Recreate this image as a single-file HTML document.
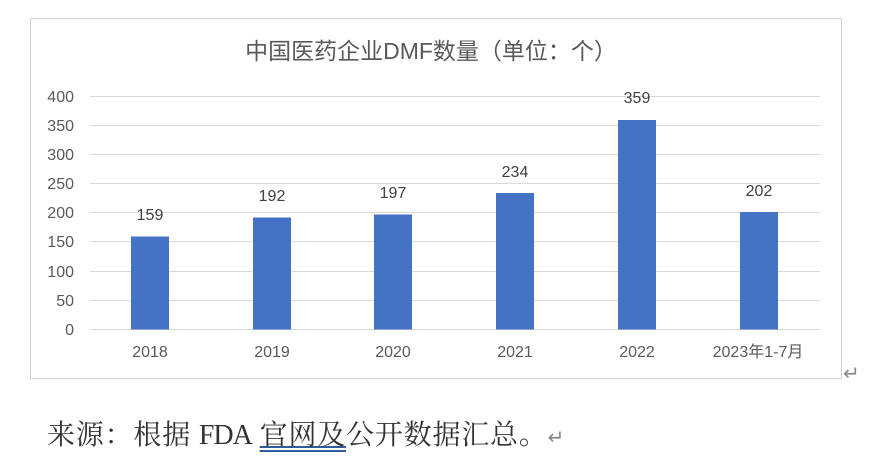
<!DOCTYPE html>
<html><head><meta charset="utf-8"><style>
body{margin:0;background:#fff;width:890px;height:467px;position:relative;overflow:hidden;font-family:"Liberation Sans","Noto Sans CJK SC",sans-serif;}
.frame{position:absolute;left:30px;top:18px;width:812px;height:361px;border:1px solid #d0d0d0;box-sizing:border-box;}
.src{position:absolute;left:47px;top:413px;font-family:"Liberation Serif","Noto Serif CJK SC",serif;font-size:28px;color:#333;letter-spacing:0.8px;}
.u{text-decoration:underline double #2e5c9e;}
</style></head><body>
<div class="frame"></div>
<svg width="890" height="467" style="position:absolute;left:0;top:0" font-family="Liberation Sans, Noto Sans CJK SC, sans-serif">
<text x="431" y="59" text-anchor="middle" font-size="23" fill="#595959">中国医药企业DMF数量（单位：个）</text>
<g stroke="#d9d9d9" stroke-width="1">
<line x1="90" x2="820" y1="96.5" y2="96.5"/><line x1="90" x2="820" y1="125.5" y2="125.5"/><line x1="90" x2="820" y1="154.5" y2="154.5"/><line x1="90" x2="820" y1="183.5" y2="183.5"/><line x1="90" x2="820" y1="212.5" y2="212.5"/><line x1="90" x2="820" y1="241.5" y2="241.5"/><line x1="90" x2="820" y1="271.5" y2="271.5"/><line x1="90" x2="820" y1="300.5" y2="300.5"/><line x1="90" x2="820" y1="329.5" y2="329.5"/>
</g>
<g font-size="16" fill="#595959" text-anchor="end">
<text x="74" y="102">400</text><text x="74" y="131">350</text><text x="74" y="160">300</text><text x="74" y="189">250</text><text x="74" y="218">200</text><text x="74" y="247">150</text><text x="74" y="277">100</text><text x="74" y="306">50</text><text x="74" y="335">0</text>
</g>
<g fill="#4472c4">
<rect x="131" y="236.5" width="38" height="93"/>
<rect x="253" y="217.5" width="38" height="112"/>
<rect x="374" y="214.5" width="38" height="115"/>
<rect x="496" y="193" width="38" height="136.5"/>
<rect x="618" y="120" width="38" height="209.5"/>
<rect x="740" y="212" width="38" height="117.5"/>
</g>
<g font-size="16" fill="#404040" text-anchor="middle">
<text x="150" y="220">159</text><text x="272" y="201">192</text><text x="393" y="198">197</text><text x="515" y="177">234</text><text x="637" y="103">359</text><text x="759" y="196">202</text>
</g>
<g font-size="16" fill="#595959" text-anchor="middle">
<text x="150" y="357">2018</text><text x="272" y="357">2019</text><text x="393" y="357">2020</text><text x="515" y="357">2021</text><text x="637" y="357">2022</text><text x="758" y="357">2023年1-7月</text>
</g>
<text x="843" y="380" font-size="20" fill="#888">↵</text>
</svg>
<div class="src">来源：根据 <span style="letter-spacing:-1px">FDA</span> <span class="u">官网及</span>公开数据汇总。<span style="color:#888;font-size:20px">↵</span></div>
</body></html>
